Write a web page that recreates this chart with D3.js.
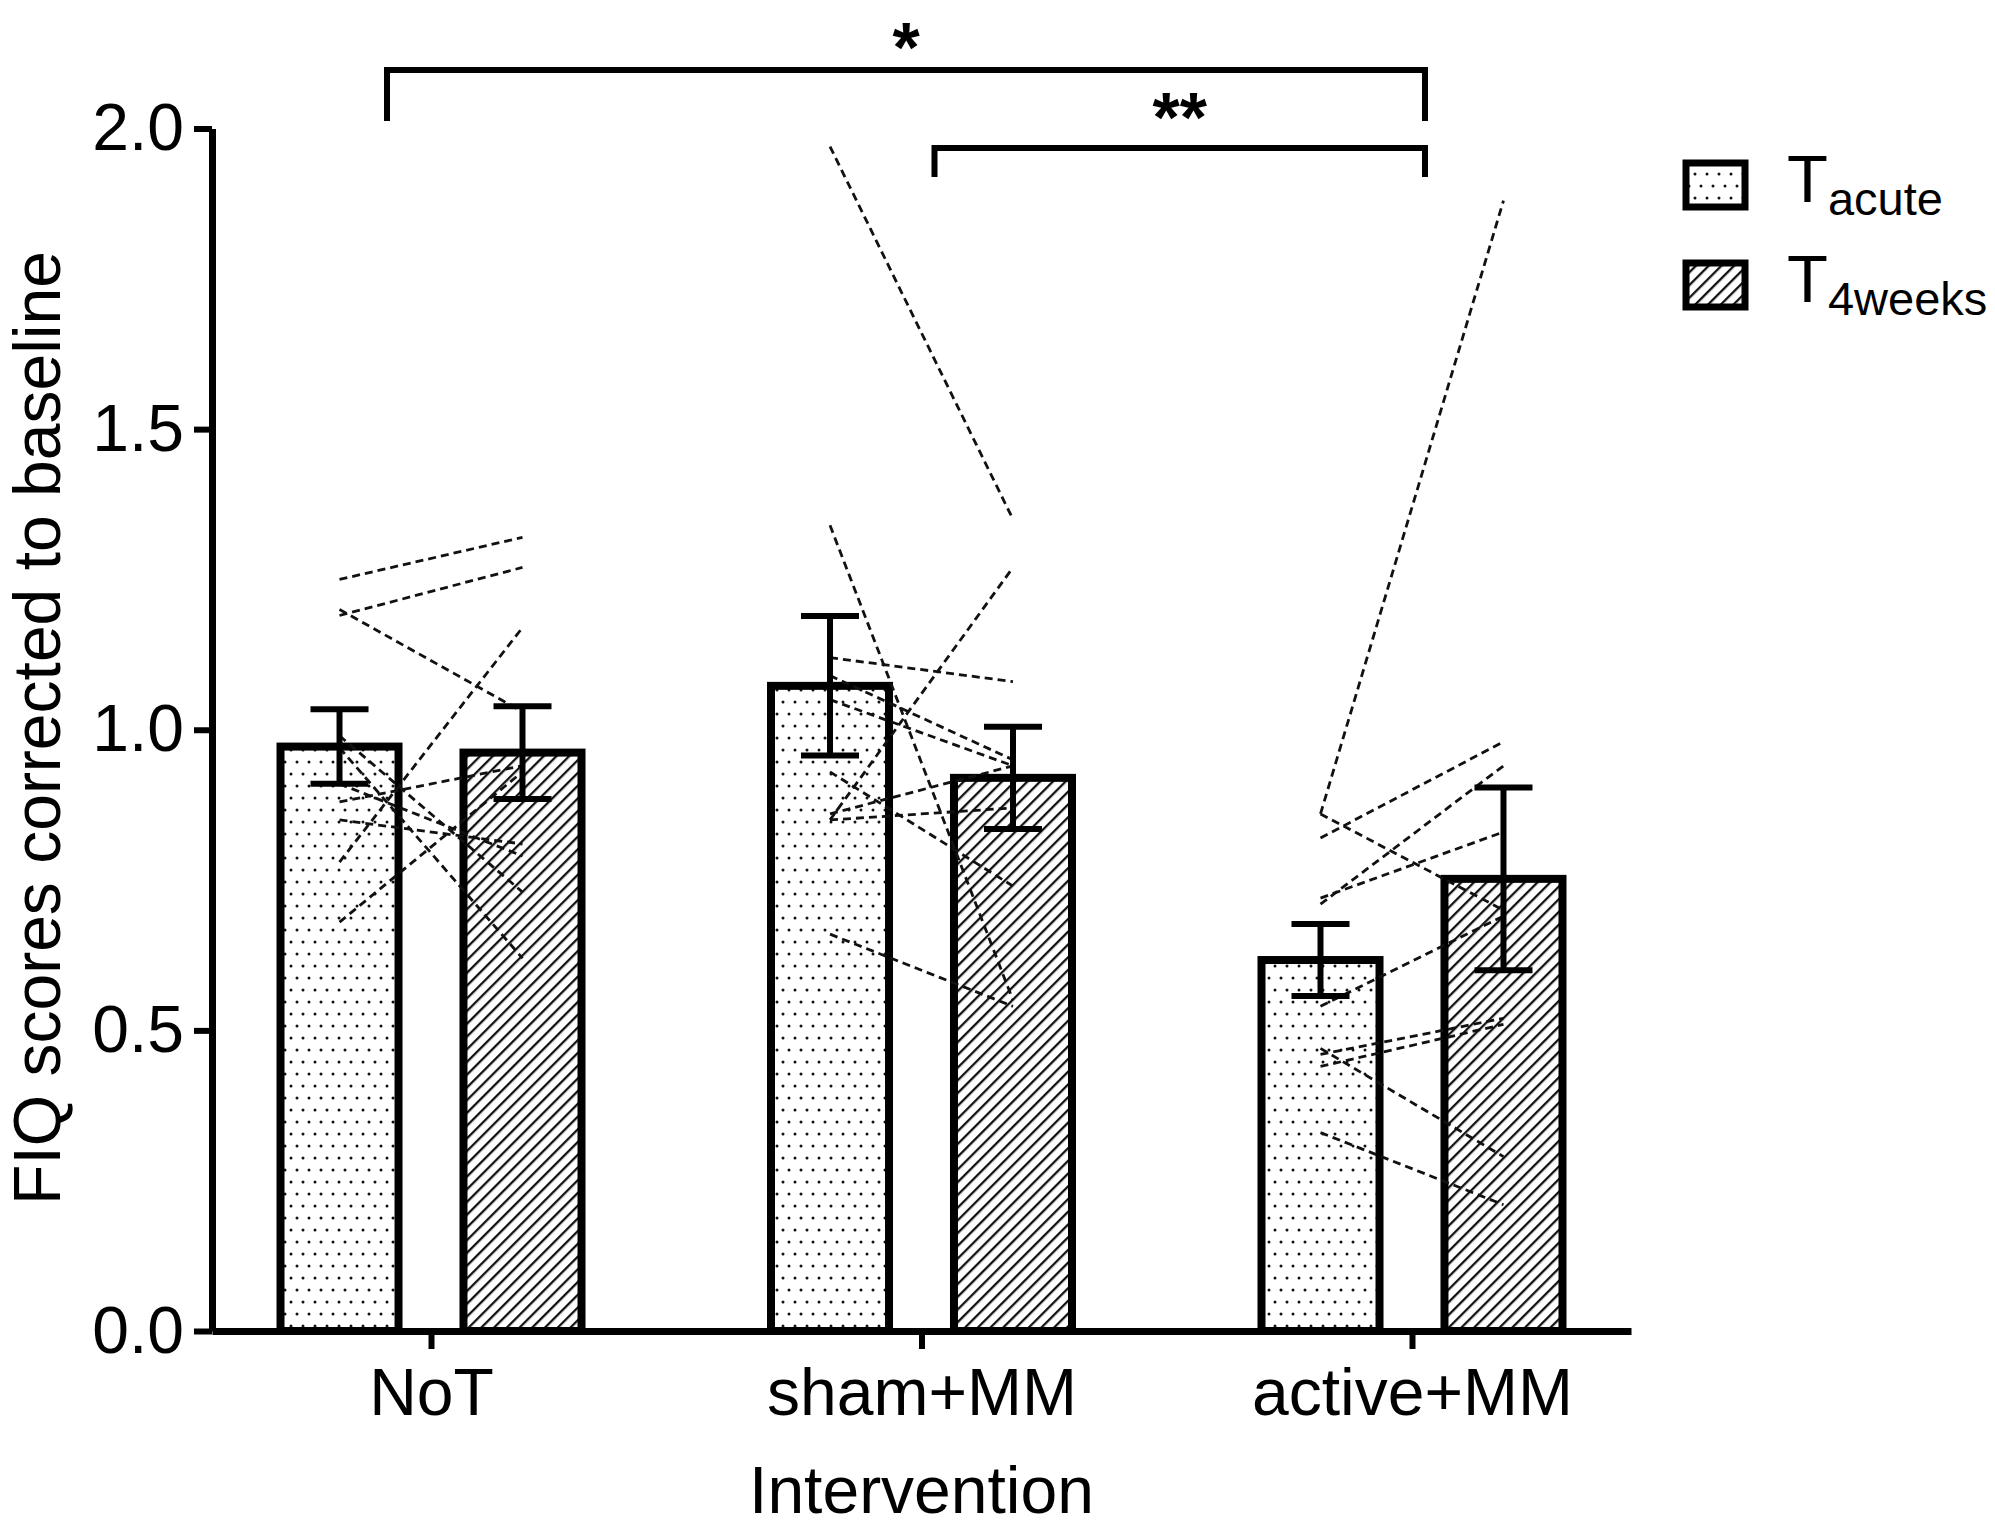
<!DOCTYPE html>
<html>
<head>
<meta charset="utf-8">
<script src="https://cdn.jsdelivr.net/npm/d3@7"></script>
<style>
  html, body { margin: 0; padding: 0; background: #fff; }
  svg { display: block; font-family: "Liberation Sans", Arial, sans-serif; }
</style>
</head>
<body>
<div id="chart"></div>
<script>
// categories and series
const categories = ["NoT", "sham+MM", "active+MM"];
const series = ["acute", "4weeks"];

// bar means and error (SEM) per category
const meanAcute = [0.972, 1.073, 0.617];
const mean4weeks = [0.962, 0.920, 0.752];
const semAcute = [0.062, 0.116, 0.060];
const sem4weeks = [0.077, 0.085, 0.152];

// individual subjects, T_acute -> T_4weeks
const notAcute = [1.25, 1.19, 1.20, 0.78, 0.68, 0.88, 0.85, 0.91, 0.99, 0.97];
const not4weeks = [1.32, 1.27, 1.03, 1.17, 0.93, 0.94, 0.81, 0.79, 0.73, 0.62];
const shamAcute = [1.97, 1.34, 0.85, 1.12, 1.09, 1.05, 0.85, 0.86, 0.93, 0.66];
const sham4weeks = [1.35, 0.55, 1.27, 1.08, 0.95, 0.94, 0.87, 0.94, 0.74, 0.54];
const activeAcute = [0.86, 0.86, 0.82, 0.71, 0.72, 0.54, 0.46, 0.44, 0.47, 0.33];
const active4weeks = [1.88, 0.70, 0.98, 0.94, 0.83, 0.69, 0.52, 0.51, 0.29, 0.21];

const yTicks = [0, 0.5, 1.0, 1.5, 2.0];

// significance brackets: [from category, to category, label]
const brackets = [
  ["NoT", "active+MM", "*"],
  ["sham+MM", "active+MM", "**"]
];

const width = 1995;
const height = 1528;

const svg = d3.select("#chart").append("svg")
  .attr("width", width)
  .attr("height", height);

const defs = svg.append("defs");

// dotted fill
const dots = defs.append("pattern")
  .attr("id", "dots")
  .attr("patternUnits", "userSpaceOnUse")
  .attr("width", 12).attr("height", 24);
dots.append("rect").attr("width", 12).attr("height", 24).attr("fill", "#fff");
dots.append("circle").attr("cx", 3).attr("cy", 6).attr("r", 1.5).attr("fill", "#111");
dots.append("circle").attr("cx", 9).attr("cy", 18).attr("r", 1.5).attr("fill", "#111");

// hatched fill
const hatch = defs.append("pattern")
  .attr("id", "hatch")
  .attr("patternUnits", "userSpaceOnUse")
  .attr("width", 9).attr("height", 9)
  .attr("patternTransform", "rotate(45)");
hatch.append("rect").attr("width", 9).attr("height", 9).attr("fill", "#fff");
hatch.append("line").attr("x1", 1).attr("y1", 0).attr("x2", 1).attr("y2", 9)
  .attr("stroke", "#111").attr("stroke-width", 2.6);

const fills = { acute: "url(#dots)", "4weeks": "url(#hatch)" };

const x = d3.scalePoint()
  .domain(categories)
  .range([212, 1631])
  .padding(0.4465);

const xSub = d3.scaleBand()
  .domain(series)
  .range([-150.5, 150.5])
  .paddingInner(0.355);

const y = d3.scaleLinear()
  .domain([0, 2])
  .range([1331, 128.5]);

const bars = categories.flatMap((c, i) => [
  { cat: c, s: "acute", mean: meanAcute[i], sem: semAcute[i] },
  { cat: c, s: "4weeks", mean: mean4weeks[i], sem: sem4weeks[i] }
]);

const subjects = [
  { cat: "NoT", a: notAcute, b: not4weeks },
  { cat: "sham+MM", a: shamAcute, b: sham4weeks },
  { cat: "active+MM", a: activeAcute, b: active4weeks }
].flatMap(g => g.a.map((v, k) => ({ cat: g.cat, a: v, b: g.b[k] })));

const barX = d => x(d.cat) + xSub(d.s);
const barCenter = (cat, s) => x(cat) + xSub(s) + xSub.bandwidth() / 2;

// bars
svg.append("g").selectAll("rect")
  .data(bars)
  .join("rect")
  .attr("x", barX)
  .attr("y", d => y(d.mean))
  .attr("width", xSub.bandwidth())
  .attr("height", d => y(0) - y(d.mean))
  .attr("fill", d => fills[d.s])
  .attr("stroke", "#000")
  .attr("stroke-width", 8);

// subject lines
svg.append("g").selectAll("line")
  .data(subjects)
  .join("line")
  .attr("x1", d => barCenter(d.cat, "acute"))
  .attr("y1", d => y(d.a))
  .attr("x2", d => barCenter(d.cat, "4weeks"))
  .attr("y2", d => y(d.b))
  .attr("stroke", "#111")
  .attr("stroke-width", 2.8)
  .attr("stroke-dasharray", "8,5");

// error bars
const err = svg.append("g").attr("stroke", "#000").attr("stroke-width", 6);
const capW = 58;
bars.forEach(d => {
  const cx = barCenter(d.cat, d.s);
  err.append("line")
    .attr("x1", cx).attr("x2", cx)
    .attr("y1", y(d.mean + d.sem)).attr("y2", y(d.mean - d.sem));
  [d.mean + d.sem, d.mean - d.sem].forEach(v => {
    err.append("line")
      .attr("x1", cx - capW / 2).attr("x2", cx + capW / 2)
      .attr("y1", y(v)).attr("y2", y(v));
  });
});

// axes
const yAxis = svg.append("g")
  .attr("transform", `translate(212,0)`)
  .call(d3.axisLeft(y).tickValues(yTicks).tickFormat(d3.format(".1f"))
    .tickSize(18).tickSizeOuter(0).tickPadding(10));

const xAxis = svg.append("g")
  .attr("transform", `translate(0,${y(0)})`)
  .call(d3.axisBottom(x).tickSize(18).tickSizeOuter(0).tickPadding(10));

[yAxis, xAxis].forEach(g => {
  g.select(".domain").attr("stroke", "#000").attr("stroke-width", 7);
  g.selectAll(".tick line").attr("stroke", "#000").attr("stroke-width", 6);
  g.selectAll(".tick text")
    .attr("fill", "#000")
    .style("font-family", "Liberation Sans, Arial, sans-serif")
    .style("font-size", "66px");
});
xAxis.selectAll(".tick text").attr("y", null).attr("dy", null)
  .attr("transform", `translate(0,84)`);

// axis titles
svg.append("text")
  .attr("transform", "translate(60,728) rotate(-90)")
  .attr("text-anchor", "middle")
  .style("font-size", "66px")
  .text("FIQ scores corrected to baseline");

svg.append("text")
  .attr("x", x("sham+MM"))
  .attr("y", 1513)
  .attr("text-anchor", "middle")
  .style("font-size", "66px")
  .text("Intervention");

// significance brackets
const bracketLevels = [{ top: 70, drop: 121, label: 72 }, { top: 148, drop: 177, label: 142 }];
const bracketOffsets = [[-44, 13], [13, 13]];
brackets.forEach((b, i) => {
  const lv = bracketLevels[i];
  const x1 = x(b[0]) + bracketOffsets[i][0];
  const x2 = x(b[1]) + bracketOffsets[i][1];
  svg.append("path")
    .attr("d", `M${x1},${lv.drop} V${lv.top} H${x2} V${lv.drop}`)
    .attr("fill", "none")
    .attr("stroke", "#000")
    .attr("stroke-width", 6);
  svg.append("text")
    .attr("x", (x1 + x2) / 2)
    .attr("y", lv.label)
    .attr("text-anchor", "middle")
    .style("font-size", "70px")
    .style("font-weight", "bold")
    .text(b[2]);
});

// legend
const legend = svg.append("g");
series.forEach((s, i) => {
  const gy = 160 + i * 100;
  legend.append("rect")
    .attr("x", 1686).attr("y", gy + 3)
    .attr("width", 59).attr("height", 44)
    .attr("fill", fills[s])
    .attr("stroke", "#000")
    .attr("stroke-width", 7);
  const t = legend.append("text")
    .attr("x", 1787).attr("y", gy + 42)
    .style("font-size", "67px")
    .text("T");
  t.append("tspan")
    .attr("dy", 13)
    .style("font-size", "47px")
    .text(s);
});
</script>
</body>
</html>
